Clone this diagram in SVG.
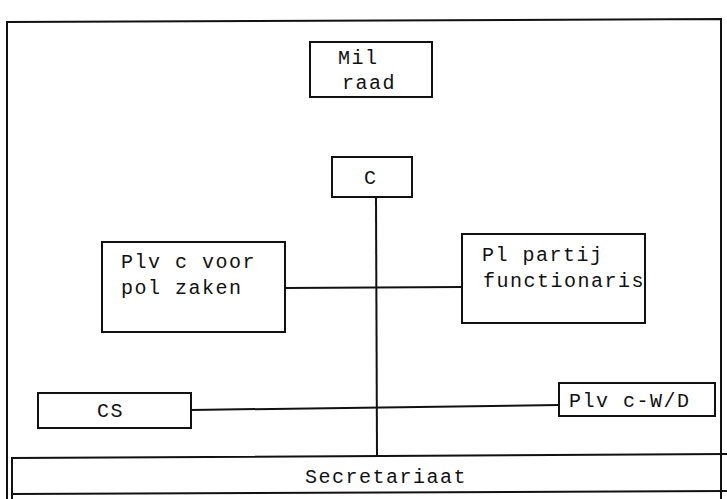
<svg xmlns="http://www.w3.org/2000/svg" width="727" height="499" viewBox="0 0 727 499">
<style>
.b{fill:#fff;stroke:#111;stroke-width:2}
.l{stroke:#111;stroke-width:2;fill:none}
text{font-family:"Liberation Mono","DejaVu Sans Mono",monospace;font-size:20px;letter-spacing:1.5px;fill:#111}
</style>
<rect width="727" height="499" fill="#fff"/>
<g id="frame">
<path class="l" d="M7,499 L7,22 L721,19 L721,499"/>
</g>
<g id="connectors">
<line class="l" x1="376" y1="197" x2="377" y2="457"/>
<line class="l" x1="285" y1="288" x2="462" y2="287"/>
<line class="l" x1="191" y1="410" x2="559" y2="405"/>
</g>
<g id="milraad">
<rect class="b" x="310" y="42" width="122" height="55"/>
<text x="338" y="64">Mil</text>
<text x="342" y="89">raad</text>
</g>
<g id="c">
<rect class="b" x="332" y="157" width="80" height="40"/>
<text x="364" y="184">C</text>
</g>
<g id="plvc">
<rect class="b" x="102" y="242" width="183" height="90"/>
<text x="121" y="268">Plv c voor</text>
<text x="121" y="294">pol zaken</text>
</g>
<g id="plpartij">
<rect class="b" x="462" y="234" width="183" height="89"/>
<text x="482" y="261">Pl partij</text>
<text x="483" y="287">functionaris</text>
</g>
<g id="cs">
<rect class="b" x="38" y="393" width="153" height="35"/>
<text x="97" y="417">CS</text>
</g>
<g id="plvcwd">
<rect class="b" x="559" y="383" width="156" height="33"/>
<text x="569" y="407">Plv c-W/D</text>
</g>
<g id="secretariaat">
<path class="l" d="M12,499 L12,458 L727,454"/>
<line class="l" x1="12" y1="494" x2="727" y2="491"/>
<text x="305" y="483">Secretariaat</text>
</g>
</svg>
